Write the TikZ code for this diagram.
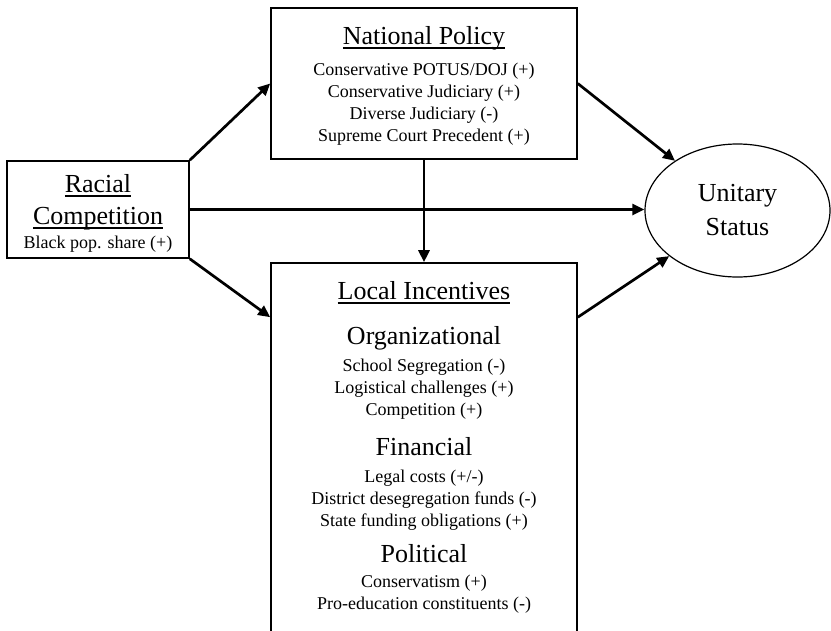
\documentclass[tikz,border=0pt]{standalone}
\usepackage{fontspec}
\setmainfont{Liberation Serif}
\usepackage{tikz}
\usetikzlibrary{positioning,arrows.meta,calc,shapes.geometric}
\newcommand{\hdfont}{\fontsize{26}{30}\selectfont}
\newcommand{\itmfont}{\fontsize{18}{22}\selectfont\lineskiplimit=-50pt\relax}
\newcommand{\undl}[1]{\setbox0=\hbox{#1}\rlap{\rule[-4.6pt]{\wd0}{1.3pt}}\box0}
\tikzset{
  boxed/.style={rectangle, draw=black, line width=1.6pt, align=center, inner sep=0pt,
    minimum width=306pt, font=\itmfont},
  outcome/.style={ellipse, draw=black, line width=1.2pt, align=center, inner sep=0pt,
    minimum width=185pt, minimum height=133pt, font=\fontsize{26}{34}\selectfont},
  arrow/.style={-{Triangle[length=12pt,width=11pt]}, line width=2.7pt}
}
\begin{document}
\begin{tikzpicture}[x=1pt,y=-1pt]
  \useasboundingbox (0,0) rectangle (831,630);
  \clip (0,0) rectangle (831,630);
  \node[boxed, minimum height=151pt] (np) at (424,83.5) {\hdfont\rule{0pt}{22pt}\undl{National Policy}\\[9pt]
    Conservative POTUS/DOJ (+)\\ Conservative Judiciary (+)\\ Diverse Judiciary (-)\\ Supreme Court Precedent (+)};
  \node[boxed, minimum width=182pt, minimum height=97pt] (rc) at (98,209.5) {\hdfont\rule{0pt}{25pt}\undl{Racial}\\[10pt]
    \hdfont\undl{Competition}\\[2pt] Black pop. share (+)};
  \node[boxed, minimum height=374pt, below=102.4pt of np] (li) {\hdfont\undl{Local Incentives}\\[23pt]
    \hdfont Organizational\\[5pt]
    School Segregation (-)\\ Logistical challenges (+)\\ Competition (+)\\[18pt]
    \hdfont Financial\\[5pt]
    Legal costs (+/-)\\ District desegregation funds (-)\\ State funding obligations (+)\\[14pt]
    \hdfont Political\\[3pt]
    Conservatism (+)\\ Pro-education constituents (-)\rule[-10pt]{0pt}{10pt}};
  \node[outcome] (us) at (737.5,210.5) {Unitary\\Status};
  % side points on the local box
  \coordinate (liw) at ($(li.north west)+(0,55)$);
  \coordinate (lie) at ($(li.north east)+(0,55)$);
  \draw[arrow] (rc.north east) -- (np.west);
  \draw[arrow] (rc.east) -- (rc.east -| us.west);
  \draw[arrow] (rc.south east) -- (liw);
  \draw[arrow] (np.south) -- (li.north);
  \draw[arrow] (np.east) -- (us);
  \draw[arrow] (lie) -- (us);
\end{tikzpicture}
\end{document}
